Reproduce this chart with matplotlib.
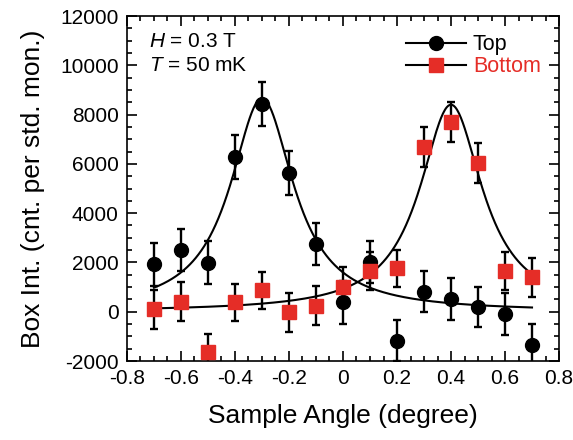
import numpy as np
import matplotlib
matplotlib.use('Agg')
from matplotlib import pyplot as plt
from matplotlib.lines import Line2D
from matplotlib.ticker import MultipleLocator, FuncFormatter

plt.rcParams['font.family'] = ['Liberation Sans', 'DejaVu Sans']
plt.rcParams['axes.unicode_minus'] = False
plt.rcParams['mathtext.fontset'] = 'custom'
plt.rcParams['mathtext.rm'] = 'Liberation Sans'
plt.rcParams['mathtext.it'] = 'Liberation Sans:italic'

RED = '#e52d27'

# measured points
angle = [-0.7, -0.6, -0.5, -0.4, -0.3, -0.2, -0.1, 0.0, 0.1, 0.2, 0.3, 0.4, 0.5, 0.6, 0.7]
top = [1924, 2504, 1990, 6290, 8430, 5630, 2750, 380, 2030, -1177, 812, 503, 203, -93, -1351]
top_err = [860, 860, 880, 900, 890, 900, 850, 860, 850, 840, 840, 850, 810, 850, 850]
bottom = [97, 406, -1635, 375, 880, -24, 250, 1015, 1652, 1761, 6672, 7686, 6022, 1652, 1396]
bottom_err = [780, 800, 740, 770, 750, 780, 780, 790, 780, 745, 810, 805, 810, 760, 800]

# lorentzian fits: (amplitude, centre, hwhm)
top_fit = (8660, -0.3, 0.1425)
bottom_fit = (8400, 0.4, 0.1414)


def lorentz(x, amp, x0, w):
    return amp * w**2 / ((x - x0)**2 + w**2)


fig = plt.figure(figsize=(5.73, 4.40), dpi=100)
ax = fig.add_axes([0.2216, 0.1795, 0.754, 0.7841])

xf = np.linspace(-0.7, 0.7, 400)
ax.plot(xf, lorentz(xf, *top_fit), color='k', lw=1.5, zorder=2)
ax.plot(xf, lorentz(xf, *bottom_fit), color='k', lw=1.5, zorder=2)

ax.errorbar(angle, top, yerr=top_err, fmt='o', color='k', ms=10,
            ecolor='k', elinewidth=1.7, capsize=3, capthick=1.7, zorder=3)
ax.errorbar(angle, bottom, yerr=bottom_err, fmt='s', mfc=RED, mec=RED, ms=10,
            ecolor='k', elinewidth=1.7, capsize=3, capthick=1.7, zorder=4)

ax.set_xlim(-0.8, 0.8)
ax.set_ylim(-2000, 12000)
ax.xaxis.set_major_locator(MultipleLocator(0.2))
ax.xaxis.set_minor_locator(MultipleLocator(0.05))
ax.yaxis.set_major_locator(MultipleLocator(2000))
ax.yaxis.set_minor_locator(MultipleLocator(500))
ax.xaxis.set_major_formatter(FuncFormatter(lambda v, p: '{:g}'.format(round(v, 2))))
ax.tick_params(which='both', direction='in', top=True, right=True, labelsize=15, width=1.2)
ax.tick_params(which='major', length=7, pad=6)
ax.tick_params(which='minor', length=3.5)
for s in ax.spines.values():
    s.set_linewidth(1.2)

ax.set_xlabel('Sample Angle (degree)', fontsize=19, labelpad=11)
ax.set_ylabel('Box Int. (cnt. per std. mon.)', fontsize=19, labelpad=11)

ax.text(0.05, 0.955, '$\\mathit{H}$ = 0.3 T', transform=ax.transAxes, fontsize=15, va='top')
ax.text(0.05, 0.885, '$\\mathit{T}$ = 50 mK', transform=ax.transAxes, fontsize=15, va='top')

handles = [Line2D([], [], color='k', marker='o', ms=10, lw=1.5),
           Line2D([], [], color='k', marker='s', ms=10, mfc=RED, mec=RED, lw=1.5)]
leg = ax.legend(handles, ['Top', 'Bottom'], loc='upper right', frameon=False, fontsize=15.5,
                handlelength=2.8, handletextpad=0.3, labelspacing=0.05,
                borderaxespad=0.45)
leg.get_texts()[1].set_color(RED)

fig.savefig('out.png', dpi=100)
